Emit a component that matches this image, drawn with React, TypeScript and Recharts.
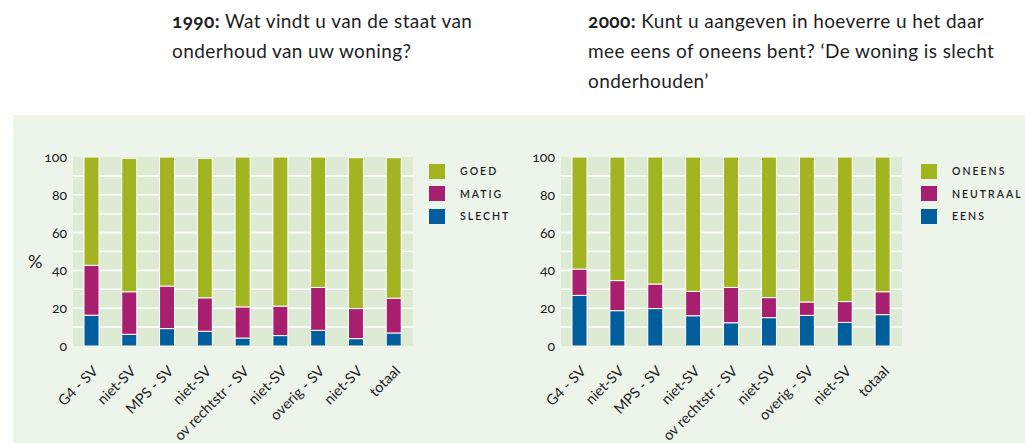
import React from 'react';
import { BarChart, Bar, XAxis, YAxis, CartesianGrid, Legend } from 'recharts';

const categories = ['G4 - SV', 'niet-SV', 'MPS - SV', 'niet-SV', 'ov rechtstr - SV', 'niet-SV', 'overig - SV', 'niet-SV', 'totaal'];

const slecht1990 = [16.3, 6.2, 9.2, 7.8, 4.2, 5.5, 8.3, 3.9, 6.9];
const matig1990 = [26.4, 22.5, 22.5, 17.7, 16.5, 15.6, 22.7, 15.9, 18.4];
const goed1990 = [57.3, 70.6, 68.3, 73.8, 79.3, 78.9, 69.0, 79.8, 74.3];

const eens2000 = [26.8, 18.7, 19.8, 16.0, 12.3, 15.0, 16.2, 12.5, 16.6];
const neutraal2000 = [13.9, 15.9, 13.0, 12.9, 18.7, 10.6, 7.1, 11.0, 12.1];
const oneens2000 = [59.3, 65.4, 67.2, 71.1, 69.0, 74.4, 76.7, 76.5, 71.3];

const yTicks = [0, 20, 40, 60, 80, 100];
const gridValues = [10, 20, 30, 40, 50, 60, 70, 80, 90];

const legend1990 = ['GOED', 'MATIG', 'SLECHT'];
const legend2000 = ['ONEENS', 'NEUTRAAL', 'EENS'];

const GREEN = '#a3b421';
const MAGENTA = '#a81f6f';
const BLUE = '#005e9c';
const TEXT = '#1e1e1e';
const FONT = 'Lato, "Open Sans", sans-serif';

const data1990 = categories.map((name, i) => ({ name, bottom: slecht1990[i], mid: matig1990[i], top: goed1990[i] }));
const data2000 = categories.map((name, i) => ({ name, bottom: eens2000[i], mid: neutraal2000[i], top: oneens2000[i] }));

const XTick = (props: any) => {
  const { x, y, payload } = props;
  return (
    <text
      transform={`translate(${x + 7},${y + 18}) rotate(-45)`}
      textAnchor="end"
      fontSize={14.5}
      fill={TEXT}
      fontFamily={FONT}
    >
      {payload.value}
    </text>
  );
};

const makeLegend = (labels: string[]) => () => (
  <div style={{ fontFamily: FONT }}>
    {labels.map((l, i) => (
      <div key={l} style={{ display: 'flex', alignItems: 'center', height: 22.5 }}>
        <div style={{ width: 16, height: 15, background: [GREEN, MAGENTA, BLUE][i], marginRight: 15 }} />
        <span style={{ fontSize: 10.5, letterSpacing: 2, color: TEXT, fontWeight: 600 }}>{l}</span>
      </div>
    ))}
  </div>
);

const gridGen = (args: any) => {
  const { yAxis, offset } = args;
  return gridValues.map((v) =>
    yAxis && typeof yAxis.scale === 'function' ? yAxis.scale(v) : offset.top + offset.height * (1 - v / 100)
  );
};

function StackChart(props: { data: any[]; labels: string[]; width: number; yWidth: number; right: number; percent: boolean; legendLeft: number }) {
  const { data, labels, width, yWidth, right, percent, legendLeft } = props;
  return (
    <BarChart width={width} height={328} data={data} margin={{ top: 42, right, left: 0, bottom: 0 }} barSize={15}>
      <CartesianGrid
        vertical={false}
        stroke="#ffffff"
        strokeWidth={1.6}
        fill="#ddebd5"
        fillOpacity={1}
        horizontalCoordinatesGenerator={gridGen}
      />
      <XAxis dataKey="name" axisLine={false} tickLine={false} interval={0} height={97} tick={<XTick />} />
      <YAxis
        width={yWidth}
        domain={[0, 100]}
        ticks={yTicks}
        axisLine={false}
        tickLine={false}
        tickSize={4}
        tickMargin={2}
        tick={{ fontSize: 14, fill: TEXT, fontFamily: FONT, style: { fontVariantNumeric: 'oldstyle-nums' } }}
        label={percent ? { value: '%', position: 'insideLeft', angle: 0, offset: 15, dy: 10, fontSize: 18, fill: TEXT, fontFamily: FONT } : undefined}
      />
      <Legend
        layout="vertical"
        align="center"
        verticalAlign="middle"
        content={makeLegend(labels)}
        wrapperStyle={{ left: legendLeft, top: 45, width: 110, height: 70 }}
      />
      <Bar dataKey="bottom" stackId="s" fill={BLUE} stroke="#ffffff" strokeWidth={1} isAnimationActive={false} />
      <Bar dataKey="mid" stackId="s" fill={MAGENTA} stroke="#ffffff" strokeWidth={1} isAnimationActive={false} />
      <Bar dataKey="top" stackId="s" fill={GREEN} stroke="#ffffff" strokeWidth={1} isAnimationActive={false} />
    </BarChart>
  );
}

export default function App() {
  const titleStyle: React.CSSProperties = {
    position: 'absolute',
    fontFamily: FONT,
    fontSize: 19,
    letterSpacing: 0.4,
    lineHeight: '30px',
    color: TEXT,
    whiteSpace: 'nowrap',
  };
  return (
    <div style={{ position: 'absolute', left: 0, top: 0, width: 1025, height: 443, background: '#ffffff', overflow: 'hidden', fontFamily: FONT }}>
      <div style={{ ...titleStyle, left: 172, top: 6 }}>
        <b style={{ fontVariantNumeric: 'oldstyle-nums' }}>1990:</b> Wat vindt u van de staat van
        <br />
        onderhoud van uw woning?
      </div>
      <div style={{ ...titleStyle, left: 588, top: 6 }}>
        <b style={{ fontVariantNumeric: 'oldstyle-nums' }}>2000:</b> Kunt u aangeven in hoeverre u het daar
        <br />
        mee eens of oneens bent? ‘De woning is slecht
        <br />
        onderhouden’
      </div>
      <div style={{ position: 'absolute', left: 13, top: 115, width: 1012, height: 328, background: '#edf5ea' }} />
      <div style={{ position: 'absolute', left: 13, top: 115 }}>
        <StackChart data={data1990} labels={legend1990} width={500} yWidth={60} right={100} percent={true} legendLeft={416} />
      </div>
      <div style={{ position: 'absolute', left: 500, top: 115 }}>
        <StackChart data={data2000} labels={legend2000} width={525} yWidth={61} right={123} percent={false} legendLeft={421} />
      </div>
    </div>
  );
}
